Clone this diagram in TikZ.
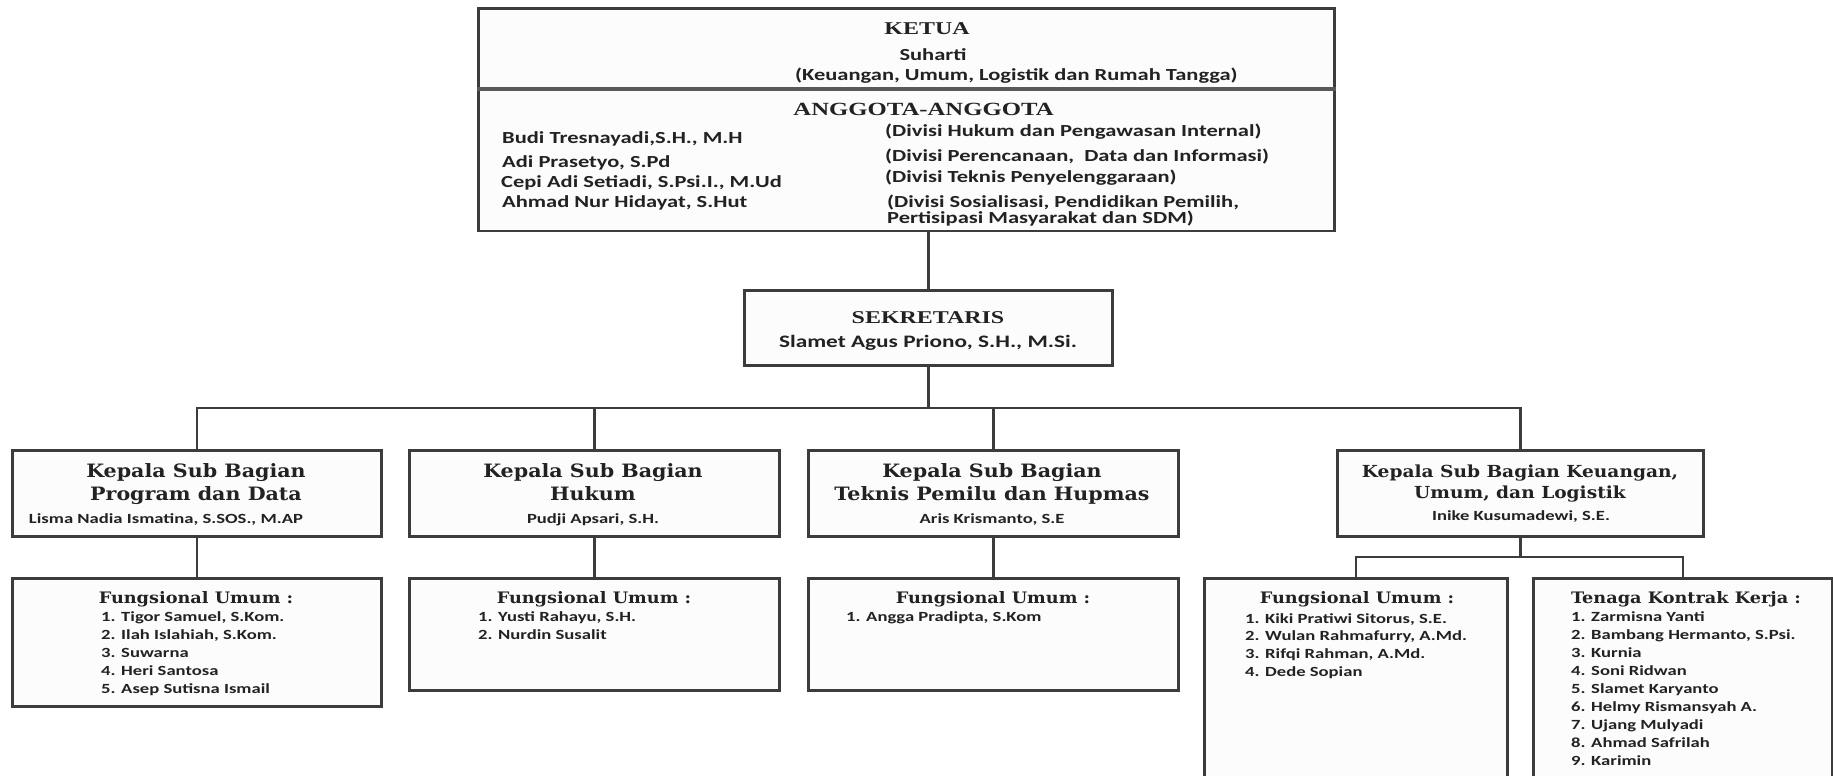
\documentclass[tikz,border=0pt]{standalone}
\usepackage{fontspec}
\newfontfamily\namefont{Carlito}[FakeStretch=1.33]
\newfontfamily\titlefont{Liberation Serif}[FakeStretch=1.33]
\newfontfamily\heavyfont{DejaVu Serif}[FakeStretch=1.12]

\definecolor{linegray}{HTML}{3C3C3C}
\definecolor{inkgray}{HTML}{222222}
\definecolor{boxfill}{HTML}{FCFCFC}

\tikzset{
  unitbox/.style={draw=linegray, line width=2.7pt, fill=boxfill, inner sep=0pt, anchor=north west},
  link/.style={draw=linegray, line width=2.6pt},
  txt/.style={inner sep=0pt, text=inkgray},
  lead/.style={txt, anchor=base, font=\titlefont\bfseries\fontsize{18}{20}\selectfont},
  unithead/.style={txt, anchor=base, font=\heavyfont\bfseries\fontsize{18.4}{22}\selectfont},
  listhead/.style={txt, anchor=base, font=\heavyfont\bfseries\fontsize{15.8}{20}\selectfont},
  person/.style={txt, font=\namefont\bfseries\fontsize{16.9}{19}\selectfont},
  chief/.style={txt, anchor=base, font=\namefont\bfseries\fontsize{14}{16}\selectfont},
  item/.style={txt, anchor=base west, font=\namefont\bfseries\fontsize{14}{16}\selectfont},
}

\begin{document}
\begin{tikzpicture}[x=1pt, y=-1pt]
\useasboundingbox (0,0) rectangle (1833,776);
\fill[white] (0,0) rectangle (1833,776);
\clip (0,0) rectangle (1833,776);

% ---- boxes ----
\node[unitbox, minimum width=856pt, minimum height=222.5pt] (top) at (477,7) {};
\node[unitbox, minimum width=368pt, minimum height=75pt]  (sek) at (743,289) {};
\node[unitbox, minimum width=369pt, minimum height=86pt]  (k1) at (11,449) {};
\node[unitbox, minimum width=370pt, minimum height=86pt]  (k2) at (408,449) {};
\node[unitbox, minimum width=370pt, minimum height=86pt]  (k3) at (807,449) {};
\node[unitbox, minimum width=366pt, minimum height=86pt]  (k4) at (1336,449) {};
\node[unitbox, minimum width=369pt, minimum height=128pt] (f1) at (11,577) {};
\node[unitbox, minimum width=370pt, minimum height=112pt] (f2) at (408,577) {};
\node[unitbox, minimum width=370pt, minimum height=112pt] (f3) at (807,577) {};
\node[unitbox, minimum width=303pt, minimum height=230pt] (f4) at (1203,577) {};
\node[unitbox, minimum width=299pt, minimum height=230pt] (f5) at (1532,577) {};

% divider between KETUA and ANGGOTA
\coordinate (dv) at (0,89);
\draw[link, line width=3.4pt, draw=linegray!85] (top.west |- dv) -- (top.east |- dv);

% ---- connectors ----
\coordinate (bus) at (0,408);
\coordinate (sub) at (0,557);
\draw[link] (sek.north) -- (sek.north |- top.south);
\draw[link] (sek.south) -- (sek.south |- bus);
\draw[link] (k1.north) -- (k1.north |- bus) -- (k4.north |- bus) -- (k4.north);
\draw[link] (k2.north) -- (k2.north |- bus);
\draw[link] (k3.north) -- (k3.north |- bus);
\draw[link] (k1.south) -- (f1.north);
\draw[link] (k2.south) -- (f2.north);
\draw[link] (k3.south) -- (f3.north);
\draw[link] (k4.south) -- (k4.south |- sub);
\draw[link] (f4.north) -- (f4.north |- sub) -- (f5.north |- sub) -- (f5.north);

% ---- KETUA / ANGGOTA ----
\node[lead] (ketua) at (927,35) {KETUA};
\node[person, anchor=base] (ketuaName) at (933,60) {Suharti};
\node[person, anchor=base west] (ketuaDiv) at (795,81) {(Keuangan, Umum, Logistik dan Rumah Tangga)};
\node[lead, font=\titlefont\bfseries\fontsize{18.6}{20}\selectfont] (anggota) at (923.5,115) {ANGGOTA-ANGGOTA};

\node[person, anchor=base west] (a1) at (502,143) {Budi Tresnayadi,S.H., M.H};
\node[person, anchor=base west] (a2) at (502,167) {Adi Prasetyo, S.Pd};
\node[person, anchor=base west] (a3) at (501,187) {Cepi Adi Setiadi, S.Psi.I., M.Ud};
\node[person, anchor=base west] (a4) at (502,207) {Ahmad Nur Hidayat, S.Hut};

\node[person, anchor=base west] (d1) at (885,136) {(Divisi Hukum dan Pengawasan Internal)};
\node[person, anchor=base west] (d2) at (885,161) {(Divisi Perencanaan, \ Data dan Informasi)};
\node[person, anchor=base west] (d3) at (885,182) {(Divisi Teknis Penyelenggaraan)};
\node[person, anchor=base west] (d4) at (887,207.5) {(Divisi Sosialisasi, Pendidikan Pemilih,};
\node[person, anchor=base west] (d5) at (887,223) {Pertisipasi Masyarakat dan SDM)};

% ---- SEKRETARIS ----
\node[lead] (sekTitle) at (928,323) {SEKRETARIS};
\node[person, anchor=base, font=\namefont\bfseries\fontsize{17.5}{19}\selectfont] (sekName) at (928,347) {Slamet Agus Priono, S.H., M.Si.};

% ---- heads of sub-sections ----
\node[unithead] (k1a) at (196,477) {Kepala Sub Bagian};
\node[unithead] (k1b) at (196,500) {Program dan Data};
\node[chief]    (k1c) at (166,523) {Lisma Nadia Ismatina, S.SOS., M.AP};

\node[unithead] (k2a) at (593,477) {Kepala Sub Bagian};
\node[unithead] (k2b) at (593,500) {Hukum};
\node[chief]    (k2c) at (593,523) {Pudji Apsari, S.H.};

\node[unithead] (k3a) at (992,477) {Kepala Sub Bagian};
\node[unithead] (k3b) at (992,500) {Teknis Pemilu dan Hupmas};
\node[chief]    (k3c) at (992,523) {Aris Krismanto, S.E};

\node[unithead, font=\heavyfont\bfseries\fontsize{16.6}{21}\selectfont] (k4a) at (1520,477) {Kepala Sub Bagian Keuangan,};
\node[unithead, font=\heavyfont\bfseries\fontsize{16.6}{21}\selectfont] (k4b) at (1520,498) {Umum, dan Logistik};
\node[chief]    (k4c) at (1521,520) {Inike Kusumadewi, S.E.};

% ---- staff lists ----
\node[listhead] (f1h) at (196,603) {Fungsional Umum :};
\foreach \t [count=\i] in {{Tigor Samuel, S.Kom.}, {Ilah Islahiah, S.Kom.}, {Suwarna}, {Heri Santosa}, {Asep Sutisna Ismail}}
  \node[item] (f1-\i) at (101,{621+18.1*(\i-1)}) {\i. \t};

\node[listhead] (f2h) at (594,603) {Fungsional Umum :};
\foreach \t [count=\i] in {{Yusti Rahayu, S.H.}, {Nurdin Susalit}}
  \node[item] (f2-\i) at (478,{621+18.1*(\i-1)}) {\i. \t};

\node[listhead] (f3h) at (993,603) {Fungsional Umum :};
\foreach \t [count=\i] in {{Angga Pradipta, S.Kom}}
  \node[item] (f3-\i) at (846,{621+18.1*(\i-1)}) {\i. \t};

\node[listhead] (f4h) at (1357,603) {Fungsional Umum :};
\foreach \t [count=\i] in {{Kiki Pratiwi Sitorus, S.E.}, {Wulan Rahmafurry, A.Md.}, {Rifqi Rahman, A.Md.}, {Dede Sopian}}
  \node[item] (f4-\i) at (1245,{623+17.8*(\i-1)}) {\i. \t};

\node[listhead] (f5h) at (1686,603) {Tenaga Kontrak Kerja :};
\foreach \t [count=\i] in {{Zarmisna Yanti}, {Bambang Hermanto, S.Psi.}, {Kurnia}, {Soni Ridwan}, {Slamet Karyanto}, {Helmy Rismansyah A.}, {Ujang Mulyadi}, {Ahmad Safrilah}, {Karimin}}
  \node[item] (f5-\i) at (1571,{621+18.1*(\i-1)}) {\i. \t};
\end{tikzpicture}
\end{document}
